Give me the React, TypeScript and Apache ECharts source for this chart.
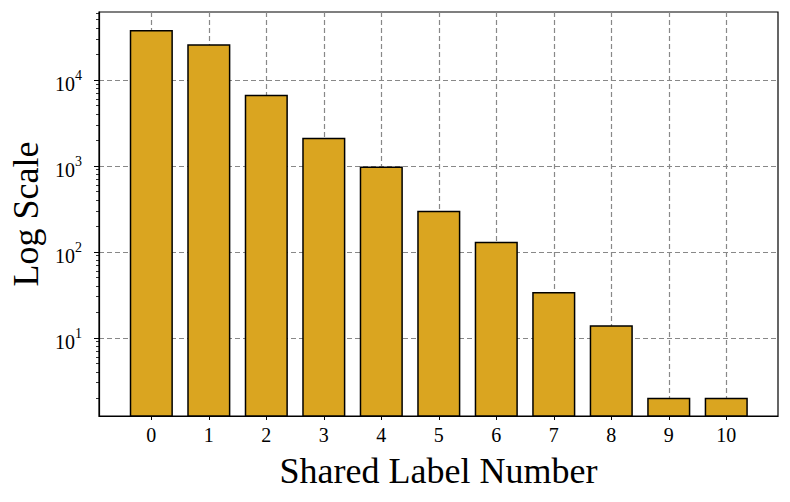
import React, { useEffect, useRef } from "react";
import * as echarts from "echarts";

const categories = [0, 1, 2, 3, 4, 5, 6, 7, 8, 9, 10];
const counts = [38000, 26000, 6700, 2120, 980, 300, 131, 34, 14, 2, 2];
const yMajorTicks = [10, 100, 1000, 10000];
const yMinorTicks = [
  2, 3, 4, 5, 6, 7, 8, 9,
  20, 30, 40, 50, 60, 70, 80, 90,
  200, 300, 400, 500, 600, 700, 800, 900,
  2000, 3000, 4000, 5000, 6000, 7000, 8000, 9000,
  20000, 30000, 40000, 50000, 60000,
];
const X_MIN = -0.91;
const X_MAX = 10.9;
const Y_MIN = 1.23;
const Y_MAX = 61500;

const FONT = "'Liberation Serif', 'Times New Roman', serif";

export default function App() {
  const ref = useRef<HTMLDivElement>(null);
  useEffect(() => {
    if (!ref.current) return;
    const chart = echarts.init(ref.current, null, { renderer: "svg" });
    const gridLine = { show: true, lineStyle: { color: "#888888", width: 1.2, type: [5, 3] as any } };
    chart.setOption({
      animation: false,
      grid: {
        left: 99,
        right: 12,
        top: 12,
        bottom: 86,
        containLabel: false,
        outerBoundsMode: "none",
        show: true,
        borderColor: "#000",
        borderWidth: 1.2,
        backgroundColor: "#fff",
      },
      xAxis: {
        type: "value",
        min: X_MIN,
        max: X_MAX,
        name: "Shared Label Number",
        nameLocation: "middle",
        nameGap: 37,
        nameTextStyle: { fontFamily: FONT, fontSize: 36, color: "#000" },
        axisLine: { show: true, onZero: false, lineStyle: { color: "#000", width: 1.2 } },
        axisTick: { show: true, length: 4, customValues: categories, lineStyle: { color: "#000", width: 1 } },
        axisLabel: {
          customValues: categories,
          fontFamily: FONT,
          fontSize: 20,
          color: "#000",
          margin: 9,
          formatter: (v: number) => String(v),
        },
        splitLine: gridLine,
      },
      yAxis: [
        {
          type: "log",
          logBase: 10,
          min: Y_MIN,
          max: Y_MAX,
          name: "Log Scale",
          nameLocation: "middle",
          nameGap: 44,
          nameRotate: 90,
          nameTextStyle: { fontFamily: FONT, fontSize: 36, color: "#000" },
          axisLine: { show: true, onZero: false, lineStyle: { color: "#000", width: 1.2 } },
          axisTick: { show: true, length: 5, customValues: yMajorTicks, lineStyle: { color: "#000", width: 1 } },
          axisLabel: {
            customValues: yMajorTicks,
            fontFamily: FONT,
            fontSize: 20,
            color: "#000",
            margin: 17,
            formatter: (v: number) => {
              const e = Math.round(Math.log10(v));
              return "{b|10}{s|" + String(e) + "}";
            },
            rich: {
              b: { fontFamily: FONT, fontSize: 20, color: "#000", padding: [8, 0, 0, 0] },
              s: { fontFamily: FONT, fontSize: 14, color: "#000", padding: [0, 0, 8, 0] },
            },
          },
          splitLine: gridLine,
        },
        {
          type: "log",
          logBase: 10,
          min: Y_MIN,
          max: Y_MAX,
          position: "left",
          axisLine: { show: false, onZero: false },
          axisTick: { show: true, length: 3, customValues: yMinorTicks, lineStyle: { color: "#000", width: 0.8 } },
          axisLabel: { show: false },
          splitLine: { show: false },
        },
      ],
      series: [
        {
          type: "bar",
          yAxisIndex: 0,
          barWidth: "75%",
          data: categories.map((c, i) => [c, counts[i]]),
          itemStyle: { color: "#DAA520", borderColor: "#000", borderWidth: 1.5 },
        },
      ],
    });
    return () => chart.dispose();
  }, []);
  return <div ref={ref} style={{ width: 790, height: 502, position: "absolute", left: 0, top: 0 }} />;
}
